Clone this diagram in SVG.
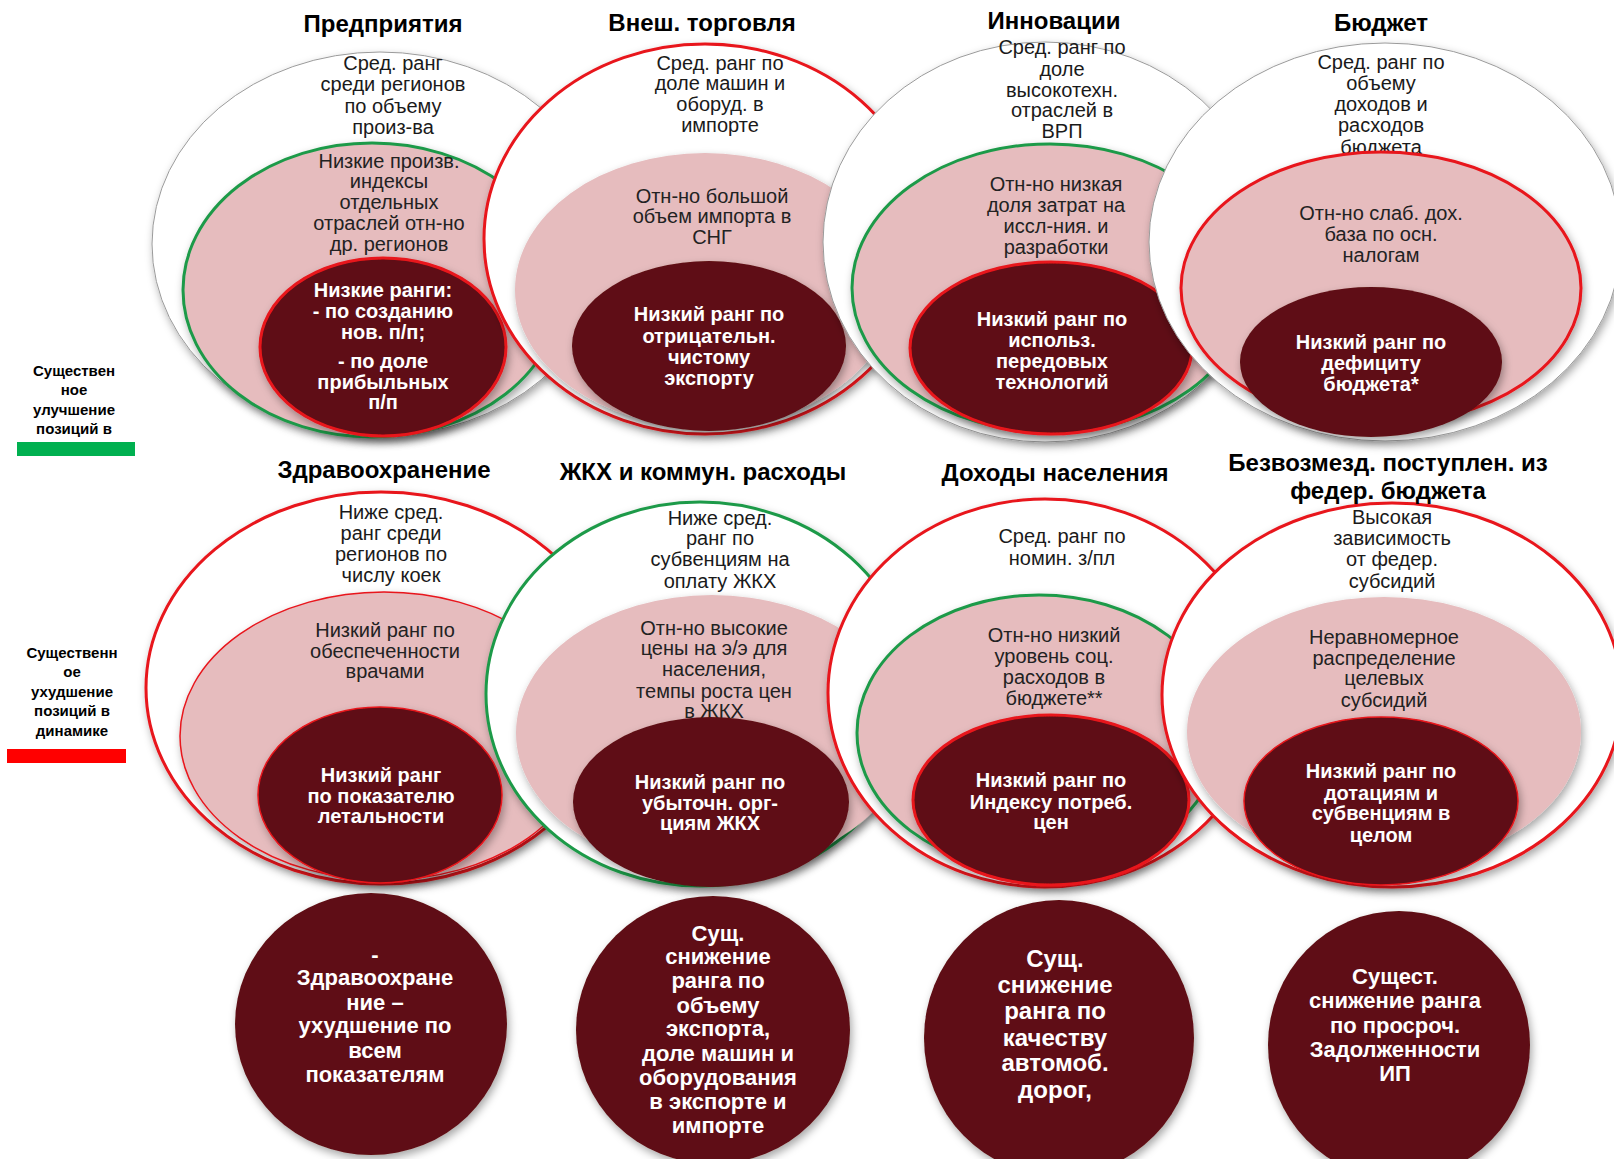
<svg xmlns="http://www.w3.org/2000/svg" width="1614" height="1159" viewBox="0 0 1614 1159">
<defs>
<filter id="sh" x="-10%" y="-10%" width="125%" height="130%">
<feDropShadow dx="2" dy="4" stdDeviation="4" flood-color="#000" flood-opacity="0.35"/>
</filter>
<style>
.wo{fill:#fff;filter:url(#sh)}
.pk{fill:#e6bcbe;filter:url(#sh)}
.dk{fill:#5e1013;filter:url(#sh)}
.sg{stroke:#9a9a9a;stroke-width:1}
.sr{stroke:#e8141b;stroke-width:3}
.sr1{stroke:#e8141b;stroke-width:1.5}
.sgr{stroke:#1f9a48;stroke-width:3}
text{font-family:"Liberation Sans",Arial,sans-serif;text-anchor:middle}
.ti{font-weight:bold;font-size:24px;fill:#000}
.tw{font-size:20px;fill:#1a1a1a}
.tp{font-size:20px;fill:#222}
.td{font-weight:bold;font-size:20px;fill:#fff}
.tb{font-weight:bold;font-size:22px;fill:#fff}
.tb3{font-weight:bold;font-size:24px;fill:#fff}
.tl{font-weight:bold;font-size:15px;fill:#000}
</style>
</defs>
<rect width="1614" height="1159" fill="#fff"/>

<g id="legend">
<text class="tl"><tspan x="74" y="376">Существен</tspan><tspan x="74" y="395">ное</tspan><tspan x="74" y="415">улучшение</tspan><tspan x="74" y="434">позиций в</tspan></text>
<rect x="17" y="442" width="118" height="14" fill="#00b050"/>
<text class="tl"><tspan x="72" y="658">Существенн</tspan><tspan x="72" y="677">ое</tspan><tspan x="72" y="697">ухудшение</tspan><tspan x="72" y="716">позиций в</tspan><tspan x="72" y="736">динамике</tspan></text>
<rect x="7" y="749" width="119" height="14" fill="#ff0000"/>
</g>

<g id="connectors"/>

<g id="node-predpriyatiya">
<ellipse class="wo sg" cx="380" cy="244" rx="228" ry="192"/>
<text class="tw"><tspan x="393" y="70">Сред. ранг</tspan><tspan x="393" y="91">среди регионов</tspan><tspan x="393" y="113">по объему</tspan><tspan x="393" y="134">произ-ва</tspan></text>
<ellipse class="pk sgr" cx="372" cy="290" rx="189" ry="147"/>
<text class="tp"><tspan x="389" y="168">Низкие произв.</tspan><tspan x="389" y="188">индексы</tspan><tspan x="389" y="209">отдельных</tspan><tspan x="389" y="230">отраслей отн-но</tspan><tspan x="389" y="251">др. регионов</tspan></text>
<ellipse class="dk sr" cx="383" cy="347" rx="123" ry="89"/>
<text class="td"><tspan x="383" y="297">Низкие ранги:</tspan><tspan x="383" y="318">- по созданию</tspan><tspan x="383" y="339">нов. п/п;</tspan><tspan x="383" y="368">- по доле</tspan><tspan x="383" y="389">прибыльных</tspan><tspan x="383" y="409">п/п</tspan></text>
<text class="ti" x="383" y="32">Предприятия</text>
</g>

<g id="node-vnesh-torgovlya">
<ellipse class="wo sr" cx="705" cy="239" rx="221" ry="195"/>
<text class="tw"><tspan x="720" y="70">Сред. ранг по</tspan><tspan x="720" y="90">доле машин  и</tspan><tspan x="720" y="111">оборуд. в</tspan><tspan x="720" y="132">импорте</tspan></text>
<ellipse class="pk" cx="705" cy="290" rx="190" ry="137"/>
<text class="tp"><tspan x="712" y="203">Отн-но большой</tspan><tspan x="712" y="223">объем импорта  в</tspan><tspan x="712" y="244">СНГ</tspan></text>
<ellipse class="dk" cx="709" cy="346" rx="137" ry="85"/>
<text class="td"><tspan x="709" y="321">Низкий ранг по</tspan><tspan x="709" y="343">отрицательн.</tspan><tspan x="709" y="364">чистому</tspan><tspan x="709" y="385">экспорту</tspan></text>
<text class="ti" x="702" y="31">Внеш. торговля</text>
</g>

<g id="node-innovacii">
<ellipse class="wo sg" cx="1045" cy="242" rx="222" ry="200"/>
<text class="tw"><tspan x="1062" y="54">Сред. ранг по</tspan><tspan x="1062" y="76">доле</tspan><tspan x="1062" y="97">высокотехн.</tspan><tspan x="1062" y="117">отраслей в</tspan><tspan x="1062" y="138">ВРП</tspan></text>
<ellipse class="pk sgr" cx="1050" cy="288" rx="198" ry="144"/>
<text class="tp"><tspan x="1056" y="191">Отн-но низкая</tspan><tspan x="1056" y="212">доля затрат на</tspan><tspan x="1056" y="233">иссл-ния. и</tspan><tspan x="1056" y="254">разработки</tspan></text>
<ellipse class="dk sr" cx="1051" cy="348" rx="141" ry="86"/>
<text class="td"><tspan x="1052" y="326">Низкий ранг по</tspan><tspan x="1052" y="347">использ.</tspan><tspan x="1052" y="368">передовых</tspan><tspan x="1052" y="389">технологий</tspan></text>
<text class="ti" x="1054" y="29">Инновации</text>
</g>

<g id="node-byudzhet">
<ellipse class="wo sg" cx="1385" cy="242" rx="236" ry="199"/>
<text class="tw"><tspan x="1381" y="69">Сред. ранг по</tspan><tspan x="1381" y="90">объему</tspan><tspan x="1381" y="111">доходов и</tspan><tspan x="1381" y="132">расходов</tspan><tspan x="1381" y="154">бюджета</tspan></text>
<ellipse class="pk sr" cx="1381" cy="288" rx="200" ry="136"/>
<text class="tp"><tspan x="1381" y="220">Отн-но слаб. дох.</tspan><tspan x="1381" y="241">база по осн.</tspan><tspan x="1381" y="262">налогам</tspan></text>
<ellipse class="dk" cx="1371" cy="362" rx="131" ry="75"/>
<text class="td"><tspan x="1371" y="349">Низкий ранг по</tspan><tspan x="1371" y="370">дефициту</tspan><tspan x="1371" y="391">бюджета*</tspan></text>
<text class="ti" x="1381" y="31">Бюджет</text>
</g>

<g id="node-zdravoohranenie">
<ellipse class="wo sr" cx="381" cy="688" rx="235" ry="196"/>
<text class="tw"><tspan x="391" y="519">Ниже сред.</tspan><tspan x="391" y="540">ранг среди</tspan><tspan x="391" y="561">регионов по</tspan><tspan x="391" y="582">числу коек</tspan></text>
<ellipse class="pk sr1" cx="384" cy="736" rx="204" ry="144"/>
<text class="tp"><tspan x="385" y="637">Низкий ранг по</tspan><tspan x="385" y="658">обеспеченности</tspan><tspan x="385" y="678">врачами</tspan></text>
<ellipse class="dk sr1" cx="380" cy="795" rx="122" ry="88"/>
<text class="td"><tspan x="381" y="782">Низкий ранг</tspan><tspan x="381" y="803">по показателю</tspan><tspan x="381" y="823">летальности</tspan></text>
<text class="ti" x="384" y="478">Здравоохранение</text>
</g>

<g id="node-zhkh">
<ellipse class="wo sgr" cx="700" cy="694" rx="214" ry="192"/>
<text class="tw"><tspan x="720" y="525">Ниже сред.</tspan><tspan x="720" y="545">ранг по</tspan><tspan x="720" y="566">субвенциям на</tspan><tspan x="720" y="588">оплату ЖКХ</tspan></text>
<ellipse class="pk" cx="712" cy="733" rx="196" ry="138"/>
<text class="tp"><tspan x="714" y="635">Отн-но высокие</tspan><tspan x="714" y="655">цены на э/э для</tspan><tspan x="714" y="676">населения,</tspan><tspan x="714" y="698">темпы роста цен</tspan><tspan x="714" y="718">в ЖКХ</tspan></text>
<ellipse class="dk" cx="711" cy="802" rx="138" ry="85"/>
<text class="td"><tspan x="710" y="789">Низкий ранг по</tspan><tspan x="710" y="810">убыточн. орг-</tspan><tspan x="710" y="830">циям ЖКХ</tspan></text>
<text class="ti" x="703" y="480">ЖКХ и коммун. расходы</text>
</g>

<g id="node-dohody">
<ellipse class="wo sr" cx="1045" cy="693" rx="217" ry="194"/>
<text class="tw"><tspan x="1062" y="543">Сред. ранг по</tspan><tspan x="1062" y="565">номин.  з/пл</tspan></text>
<ellipse class="pk sgr" cx="1039" cy="733" rx="182" ry="138"/>
<text class="tp"><tspan x="1054" y="642">Отн-но низкий</tspan><tspan x="1054" y="663">уровень соц.</tspan><tspan x="1054" y="684">расходов в</tspan><tspan x="1054" y="705">бюджете**</tspan></text>
<ellipse class="dk sr" cx="1051" cy="800" rx="138" ry="85"/>
<text class="td"><tspan x="1051" y="787">Низкий ранг по</tspan><tspan x="1051" y="809">Индексу потреб.</tspan><tspan x="1051" y="829">цен</tspan></text>
<text class="ti" x="1055" y="481">Доходы населения</text>
</g>

<g id="node-bezvozmezd">
<ellipse class="wo sr" cx="1392" cy="695" rx="230" ry="192"/>
<text class="tw"><tspan x="1392" y="524">Высокая</tspan><tspan x="1392" y="545">зависимость</tspan><tspan x="1392" y="566">от федер.</tspan><tspan x="1392" y="588">субсидий</tspan></text>
<ellipse class="pk" cx="1384" cy="732" rx="197" ry="135"/>
<text class="tp"><tspan x="1384" y="644">Неравномерное</tspan><tspan x="1384" y="665">распределение</tspan><tspan x="1384" y="685">целевых</tspan><tspan x="1384" y="707">субсидий</tspan></text>
<ellipse class="dk sr1" cx="1381" cy="801" rx="137" ry="84"/>
<text class="td"><tspan x="1381" y="778">Низкий ранг по</tspan><tspan x="1381" y="800">дотациям и</tspan><tspan x="1381" y="820">субвенциям в</tspan><tspan x="1381" y="842">целом</tspan></text>
<text class="ti"><tspan x="1388" y="471">Безвозмезд. поступлен. из</tspan><tspan x="1388" y="499">федер. бюджета</tspan></text>
</g>

<g id="node-oval-1">
<ellipse class="dk" cx="371" cy="1024" rx="136" ry="131"/>
<text class="tb"><tspan x="375" y="962">-</tspan><tspan x="375" y="985">Здравоохране</tspan><tspan x="375" y="1010">ние –</tspan><tspan x="375" y="1033">ухудшение  по</tspan><tspan x="375" y="1058">всем</tspan><tspan x="375" y="1082">показателям</tspan></text>
</g>

<g id="node-oval-2">
<ellipse class="dk" cx="713" cy="1030" rx="137" ry="134"/>
<text class="tb"><tspan x="718" y="941">Сущ.</tspan><tspan x="718" y="964">снижение</tspan><tspan x="718" y="988">ранга по</tspan><tspan x="718" y="1013">объему</tspan><tspan x="718" y="1036">экспорта,</tspan><tspan x="718" y="1061">доле машин и</tspan><tspan x="718" y="1085">оборудования</tspan><tspan x="718" y="1109">в экспорте и</tspan><tspan x="718" y="1133">импорте</tspan></text>
</g>

<g id="node-oval-3">
<ellipse class="dk" cx="1059" cy="1038" rx="135" ry="138"/>
<text class="tb3"><tspan x="1055" y="967">Сущ.</tspan><tspan x="1055" y="993">снижение</tspan><tspan x="1055" y="1019">ранга по</tspan><tspan x="1055" y="1046">качеству</tspan><tspan x="1055" y="1071">автомоб.</tspan><tspan x="1055" y="1098">дорог,</tspan></text>
</g>

<g id="node-oval-4">
<ellipse class="dk" cx="1399" cy="1045" rx="131" ry="134"/>
<text class="tb"><tspan x="1395" y="984">Сущест.</tspan><tspan x="1395" y="1008">снижение ранга</tspan><tspan x="1395" y="1033">по просроч.</tspan><tspan x="1395" y="1057">Задолженности</tspan><tspan x="1395" y="1081">ИП</tspan></text>
</g>
</svg>
